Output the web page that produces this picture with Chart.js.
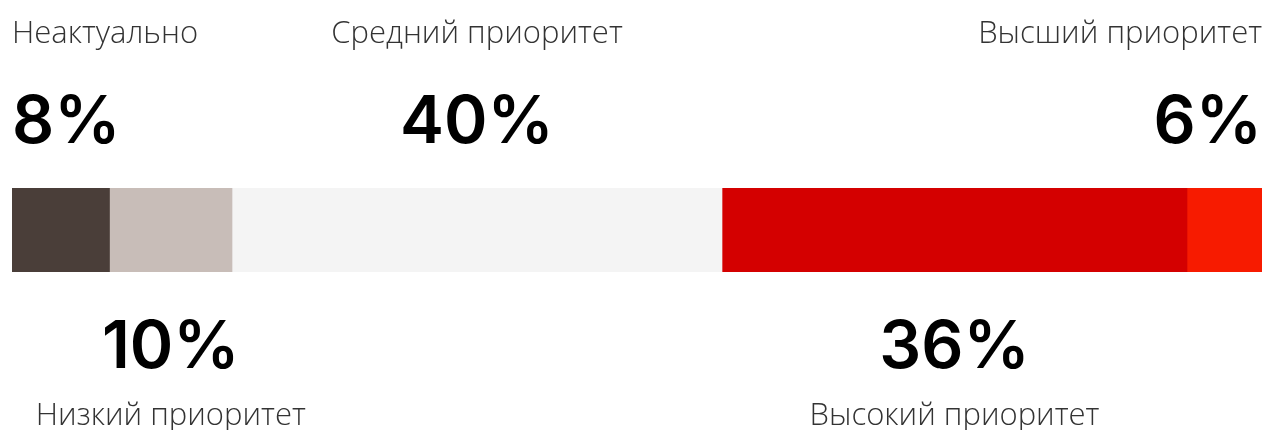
<!DOCTYPE html>
<html>
<head>
<meta charset="utf-8">
<script src="https://cdn.jsdelivr.net/npm/chart.js@4"></script>
<style>
    html, body { margin: 0; padding: 0; background: #fff; }
    #wrap { width: 1265px; height: 430px; position: relative; }
</style>
</head>
<body>
<div id="wrap"><canvas id="priority_chart"></canvas></div>
<script>
    // categories, in bar order
    var categories = ['Неактуально', 'Низкий приоритет', 'Средний приоритет', 'Высокий приоритет', 'Высший приоритет'];
    // segment widths (percent of the whole)
    var shares = [7.8, 9.8, 39.2, 37.2, 6.0];
    // percentages as printed on the chart
    var shareLabels = ['8%', '10%', '40%', '36%', '6%'];
    var segmentColors = ['#4a3e39', '#c8bdb8', '#f4f4f4', '#d40000', '#f71b00'];

    var nameFont = '300 31px "Open Sans", "Noto Sans", sans-serif';
    var pctFont = '600 66px Inter, "Noto Sans", sans-serif';

    var datasets = categories.map(function (name, i) {
        return {
            label: name,
            data: [shares[i]],
            backgroundColor: segmentColors[i],
            borderWidth: 0,
            barPercentage: 1,
            categoryPercentage: 1,
        };
    });

    // draws name + percentage above (even) or below (odd) each segment
    var segmentLabels = {
        id: 'segmentLabels',
        afterDatasetsDraw: function (chart) {
            var ctx = chart.ctx;
            var area = chart.chartArea;
            ctx.save();
            chart.data.datasets.forEach(function (ds, i) {
                var bar = chart.getDatasetMeta(i).data[0];
                var center = (bar.x + bar.base) / 2;
                var above = i % 2 === 0;

                function place(w) {
                    var left = center - w / 2;
                    if (left < area.left) left = area.left;
                    if (left + w > area.right) left = area.right - w;
                    return left;
                }

                ctx.textAlign = 'left';
                ctx.textBaseline = 'alphabetic';

                ctx.font = nameFont;
                ctx.fillStyle = '#333';
                var nameW = ctx.measureText(ds.label).width;
                ctx.fillText(ds.label, place(nameW), above ? 43 : 425);

                ctx.font = pctFont;
                ctx.fillStyle = '#000';
                var pctW = ctx.measureText(shareLabels[i]).width;
                ctx.fillText(shareLabels[i], place(pctW), above ? 143 : 368);
            });
            ctx.restore();
        }
    };

    var canvas = document.getElementById('priority_chart');
    var chart = new Chart(canvas, {
        type: 'bar',
        data: {
            labels: [''],
            datasets: datasets,
        },
        options: {
            indexAxis: 'y',
            responsive: true,
            maintainAspectRatio: false,
            animation: false,
            layout: {
                padding: { left: 12, right: 3, top: 188, bottom: 158 }
            },
            plugins: {
                legend: { display: false },
                tooltip: { enabled: false },
            },
            scales: {
                x: { stacked: true, min: 0, max: 100, display: false },
                y: { stacked: true, display: false },
            }
        },
        plugins: [segmentLabels]
    });
</script>
</body>
</html>
